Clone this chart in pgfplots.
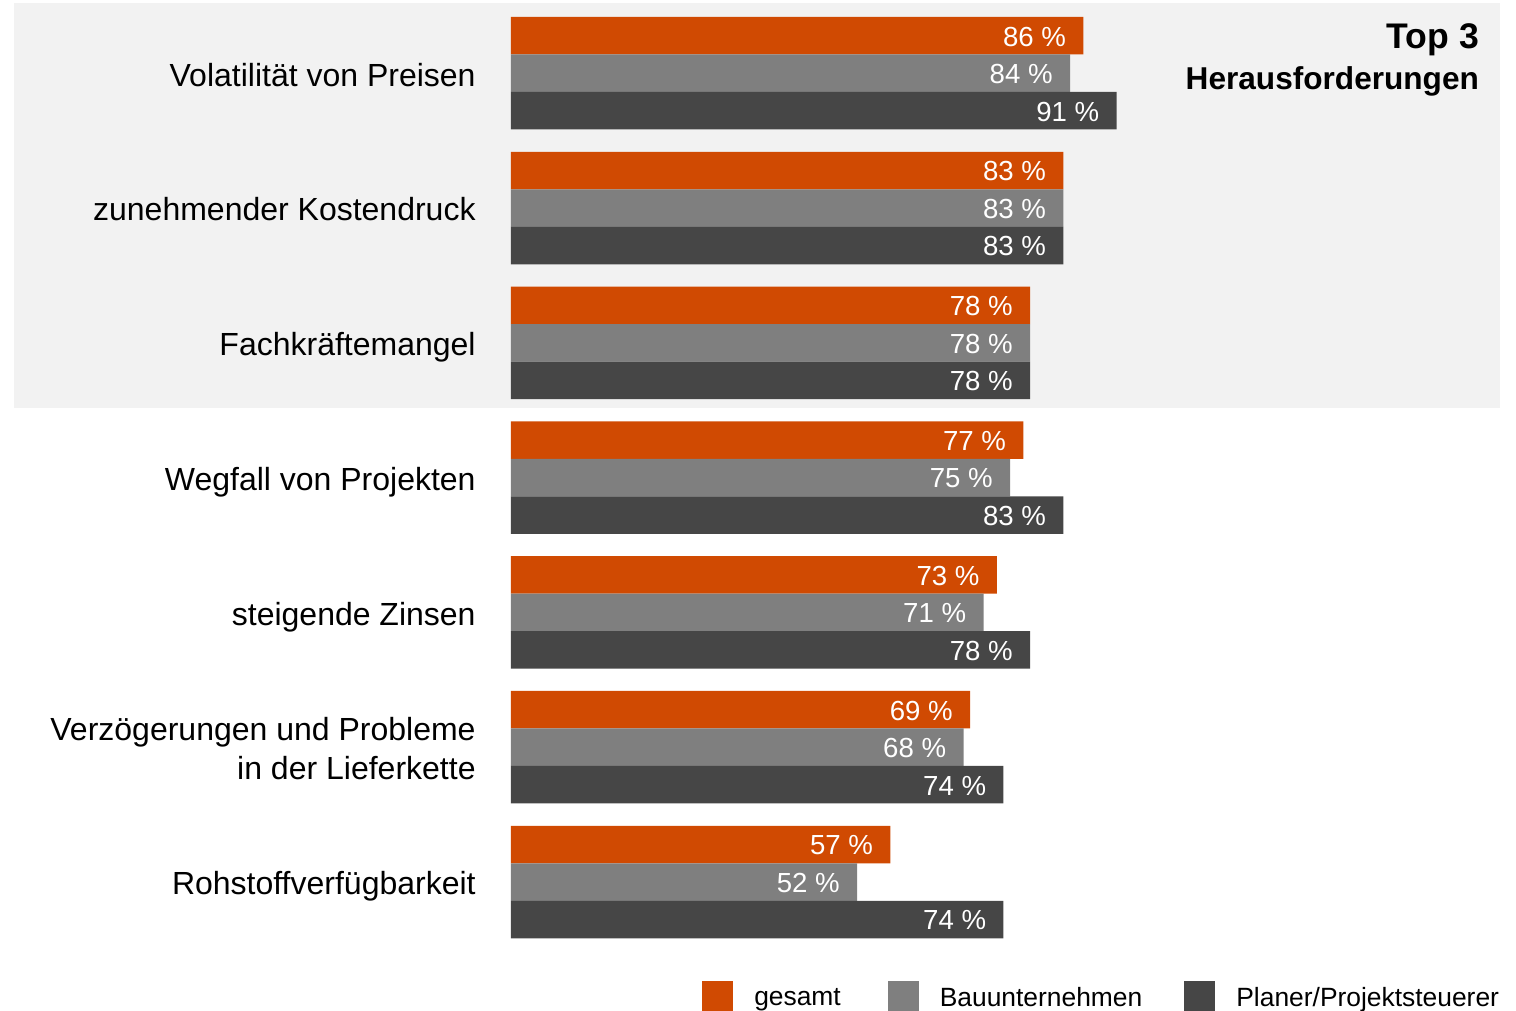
\documentclass[border=0pt]{standalone}
\usepackage{fontspec}
\setmainfont{Liberation Sans}
\usepackage{pgfplots}
\pgfplotsset{compat=1.18}

\definecolor{pwcorange}{HTML}{D04A02}
\definecolor{midgrey}{HTML}{7F7F7F}
\definecolor{darkgrey}{HTML}{464646}
\definecolor{bggrey}{HTML}{F2F2F2}

\begin{document}
\begin{tikzpicture}
  \begin{axis}[
    set layers,
    scale only axis, width=758pt, height=505.5pt,
    xmin=-76.78, xmax=151.01,
    ymin=-0.5434, ymax=6.9566, y dir=reverse,
    axis line style={draw=none},
    xtick=\empty,
    ytick={0,...,6},
    major tick length=0pt,
    yticklabels={Volatilität von Preisen, zunehmender Kostendruck, Fachkräftemangel,
      Wegfall von Projekten, steigende Zinsen,
      {\raisebox{-9.5pt}{\begin{tabular}[b]{@{}r@{}}Verzögerungen und Probleme\\in der Lieferkette\end{tabular}}},
      Rohstoffverfügbarkeit},
    yticklabel style={font=\fontsize{16}{19.5}\selectfont,
      anchor=base east, inner sep=0pt, xshift=238pt, yshift=-6.4pt},
    xbar, bar width=18.75pt,
    clip=false,
    /pgf/number format/assume math mode=true,
    nodes near coords={\pgfmathprintnumber{\pgfplotspointmeta}~\%},
    nodes near coords style={font=\fontsize{13.8}{16}\selectfont, text=white,
      anchor=east, inner sep=0pt, xshift=-8.5pt, yshift=-0.4pt},
    legend columns=3,
    legend image code/.code={\fill[#1,bar shift=0pt] (0pt,-6.8pt) rectangle (15.5pt,8.7pt);},
    legend style={draw=none, fill=none, inner sep=0pt, outer sep=0pt,
      at={(axis cs:148.46,6.734)}, anchor=north east,
      font=\fontsize{13.2}{16}\selectfont,
      nodes={inner sep=0pt}, column sep=10.5pt,
      /tikz/column 2/.style={column sep=23.5pt},
      /tikz/column 4/.style={column sep=21pt}},
    legend cell align=left,
  ]
    \begin{pgfonlayer}{axis background}
      \fill[bggrey] (axis cs:-74.68,-0.5211) rectangle (axis cs:148.61,2.4833);
    \end{pgfonlayer}

    \addplot[fill=pwcorange, draw=none, bar shift=18.75pt] coordinates {
      (86,0) (83,1) (78,2) (77,3) (73,4) (69,5) (57,6)};
    \addplot[fill=midgrey, draw=none, bar shift=0pt] coordinates {
      (84,0) (83,1) (78,2) (75,3) (71,4) (68,5) (52,6)};
    \addplot[fill=darkgrey, draw=none, bar shift=-18.75pt] coordinates {
      (91,0) (83,1) (78,2) (83,3) (78,4) (74,5) (74,6)};
    \legend{gesamt, Bauunternehmen, Planer/Projektsteuerer}

    \node[anchor=base east, inner sep=0pt, font=\bfseries\fontsize{17.8}{20}\selectfont]
      at (axis cs:145.5,-0.182) {Top 3};
    \node[anchor=base east, inner sep=0pt, font=\bfseries\fontsize{15.8}{19}\selectfont]
      at (axis cs:145.5,0.122) {Herausforderungen};
  \end{axis}
  \pgfresetboundingbox
  \useasboundingbox (current axis.south west) rectangle (current axis.north east);
\end{tikzpicture}
\end{document}
